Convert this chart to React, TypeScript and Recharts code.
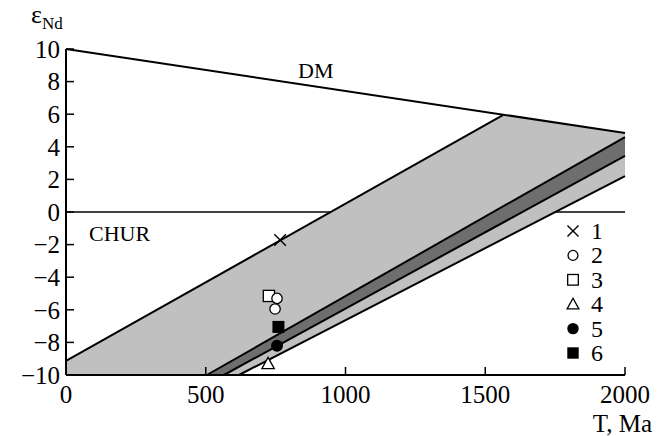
import React from "react";
import { ComposedChart, Area, Line, Scatter, XAxis, YAxis, Legend, Customized } from "recharts";

const FONT = '"Liberation Serif", "Times New Roman", serif';

const xTicks = [0, 500, 1000, 1500, 2000];
const yTicks = [-10, -8, -6, -4, -2, 0, 2, 4, 6, 8, 10];

// vertices [T (Ma), eps Nd]
const dmLine = [[0, 10], [2000, 4.85]];
const churLeft = [[0, 0], [947, 0]];
const churRight = [[1751, 0], [2000, 0]];
const fieldTop = [[0, -9.14], [1563, 5.95]];
const fieldOutline = [[0, -9.14], [1563, 5.95], [2000, 4.85]];
const darkUpper = [[504, -10], [2000, 4.6]];
const darkLower = [[565, -10], [2000, 3.44]];
const fieldBottom = [[619, -10], [2000, 2.2]];

// samples
const sampleNames = ["1", "2", "3", "4", "5", "6"];
const sampleKinds = ["cross", "circle", "square", "triangle", "dot", "block"];
const sample1 = [{ t: 766, e: -1.72 }];
const sample2 = [{ t: 755, e: -5.3 }, { t: 748, e: -5.95 }];
const sample3 = [{ t: 726, e: -5.15 }];
const sample4 = [{ t: 723, e: -9.3 }];
const sample5 = [{ t: 755, e: -8.2 }];
const sample6 = [{ t: 760, e: -7.05 }];

const seriesMap: Record<string, number[][]> = {
  dm: dmLine,
  churL: churLeft,
  churR: churRight,
  top: fieldTop,
  field: fieldOutline,
  up: darkUpper,
  low: darkLower,
  bot: fieldBottom,
};

const table = (() => {
  const rows = new Map<number, any>();
  for (const [key, pts] of Object.entries(seriesMap)) {
    for (const [t, e] of pts) {
      if (!rows.has(t)) rows.set(t, { t });
      rows.get(t)[key] = e;
    }
  }
  return [...rows.values()].sort((a, b) => a.t - b.t);
})();

function Marker({ kind, cx, cy, k = 1 }: { kind: string; cx: number; cy: number; k?: number }) {
  switch (kind) {
    case "cross": {
      const s = 5.8 * k;
      return (
        <path
          d={`M${cx - s},${cy - s}L${cx + s},${cy + s}M${cx - s},${cy + s}L${cx + s},${cy - s}`}
          stroke="#000"
          strokeWidth={1.4}
          fill="none"
        />
      );
    }
    case "circle":
      return <circle cx={cx} cy={cy} r={5.2 * k} fill="#fff" stroke="#000" strokeWidth={1.3} />;
    case "square":
      return <rect x={cx - 5.6 * k} y={cy - 5.6 * k} width={11.2 * k} height={11.2 * k} fill="#fff" stroke="#000" strokeWidth={1.3} />;
    case "triangle":
      return (
        <path
          d={`M${cx},${cy - 6.2 * k}L${cx + 6.2 * k},${cy + 5 * k}L${cx - 6.2 * k},${cy + 5 * k}Z`}
          fill="#fff"
          stroke="#000"
          strokeWidth={1.3}
        />
      );
    case "dot":
      return <circle cx={cx} cy={cy} r={6 * k} fill="#000" />;
    default:
      return <rect x={cx - 6 * k} y={cy - 6 * k} width={12 * k} height={12 * k} fill="#000" />;
  }
}

const fmt = (v: number) => String(v).replace("-", "\u2212");

const YTick = ({ x, y, payload }: any) => (
  <g>
    <line x1={x + 6} x2={x + 14} y1={y} y2={y} stroke="#000" strokeWidth={1.5} />
    <text x={x} y={y} dy="0.35em" textAnchor="end" fontFamily={FONT} fontSize={25} fill="#000">
      {fmt(payload.value)}
    </text>
  </g>
);

const XTick = ({ x, y, payload }: any) => (
  <g>
    <line x1={x} x2={x} y1={y - 10} y2={y - 18} stroke="#000" strokeWidth={1.5} />
    <text x={x} y={y} dy="0.71em" textAnchor="middle" fontFamily={FONT} fontSize={25} fill="#000">
      {payload.value}
    </text>
  </g>
);

const LegendBox = () => (
  <svg width={70} height={152} style={{ display: "block" }}>
    {sampleNames.map((n, i) => {
      const cy = 15 + i * 24.4;
      return (
        <g key={n}>
          <Marker kind={sampleKinds[i]} cx={13} cy={cy} k={0.95} />
          <text x={31} y={cy + 8} fontFamily={FONT} fontSize={24} fill="#000">
            {n}
          </text>
        </g>
      );
    })}
  </svg>
);

const Notes = () => (
  <g fontFamily={FONT} fill="#000">
    <text x={298} y={78} fontSize={22}>DM</text>
    <text x={89} y={241} fontSize={22}>CHUR</text>
  </g>
);

const samples = [
  { data: sample1, kind: "cross", name: "1" },
  { data: sample3, kind: "square", name: "3" },
  { data: sample2, kind: "circle", name: "2" },
  { data: sample4, kind: "triangle", name: "4" },
  { data: sample5, kind: "dot", name: "5" },
  { data: sample6, kind: "block", name: "6" },
];

export default function App() {
  return (
    <div style={{ position: "absolute", left: 0, top: 0, width: 663, height: 436, background: "#fff" }}>
      <ComposedChart width={663} height={436} data={table} margin={{ top: 49, right: 38, left: 0, bottom: 31 }}>
        <Area type="linear" dataKey="field" baseValue={-10} fill="#c0c0c0" fillOpacity={1} stroke="none" connectNulls isAnimationActive={false} legendType="none" />
        <Area type="linear" dataKey="up" baseValue={-10} fill="#6e6e6e" fillOpacity={1} stroke="none" connectNulls isAnimationActive={false} legendType="none" />
        <Area type="linear" dataKey="low" baseValue={-10} fill="#c0c0c0" fillOpacity={1} stroke="none" connectNulls isAnimationActive={false} legendType="none" />
        <Area type="linear" dataKey="bot" baseValue={-10} fill="#ffffff" fillOpacity={1} stroke="none" connectNulls isAnimationActive={false} legendType="none" />

        <Line type="linear" dataKey="churL" stroke="#000" strokeWidth={1.3} dot={false} activeDot={false} connectNulls isAnimationActive={false} legendType="none" />
        <Line type="linear" dataKey="churR" stroke="#000" strokeWidth={1.3} dot={false} activeDot={false} connectNulls isAnimationActive={false} legendType="none" />
        <Line type="linear" dataKey="dm" stroke="#000" strokeWidth={2} dot={false} activeDot={false} connectNulls isAnimationActive={false} legendType="none" />
        <Line type="linear" dataKey="top" stroke="#000" strokeWidth={2} dot={false} activeDot={false} connectNulls isAnimationActive={false} legendType="none" />
        <Line type="linear" dataKey="up" stroke="#000" strokeWidth={2} dot={false} activeDot={false} connectNulls isAnimationActive={false} legendType="none" />
        <Line type="linear" dataKey="low" stroke="#000" strokeWidth={2} dot={false} activeDot={false} connectNulls isAnimationActive={false} legendType="none" />
        <Line type="linear" dataKey="bot" stroke="#000" strokeWidth={2} dot={false} activeDot={false} connectNulls isAnimationActive={false} legendType="none" />

        {samples.map((s) => (
          <Scatter
            key={s.name}
            name={s.name}
            data={s.data}
            dataKey="e"
            isAnimationActive={false}
            shape={(p: any) => <Marker kind={s.kind} cx={p.cx} cy={p.cy} />}
          />
        ))}

        <XAxis
          type="number"
          dataKey="t"
          domain={[0, 2000]}
          ticks={xTicks}
          interval={0}
          height={30}
          tickSize={0}
          tickMargin={10}
          tickLine={false}
          axisLine={{ stroke: "#000", strokeWidth: 2 }}
          tick={<XTick />}
          label={() => (
            <text x={652} y={432} textAnchor="end" fontFamily={FONT} fontSize={25} fill="#000">
              T, Ma
            </text>
          )}
        />
        <YAxis
          type="number"
          domain={[-10, 10]}
          ticks={yTicks}
          interval={0}
          width={66}
          tickSize={0}
          tickMargin={6}
          tickLine={false}
          axisLine={{ stroke: "#000", strokeWidth: 2 }}
          tick={<YTick />}
          label={() => (
            <text x={31} y={23} fontFamily={FONT} fontSize={26} fill="#000">
              ε<tspan fontSize={17} dy={6}>Nd</tspan>
            </text>
          )}
        />
        <Customized component={<Notes />} />
        <Legend
          layout="horizontal"
          verticalAlign="middle"
          align="center"
          wrapperStyle={{ position: "absolute", left: 560, top: 216, width: 70, height: 152 }}
          content={() => <LegendBox />}
        />
      </ComposedChart>
    </div>
  );
}
